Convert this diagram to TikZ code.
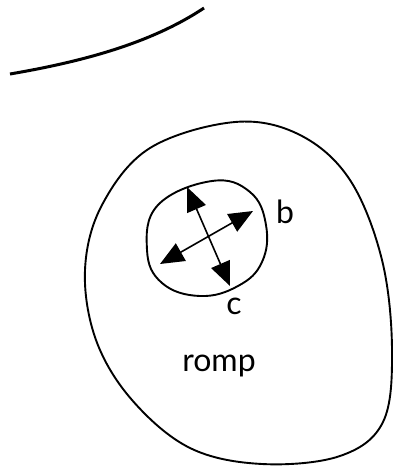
\documentclass[tikz,border=0pt]{standalone}
\usepackage{fontspec}
\setmainfont{Lato}
\usetikzlibrary{arrows.meta}
\begin{document}
\begin{tikzpicture}[x=1pt,y=-1pt,line width=1.9pt,
  lb/.style={font=\fontsize{32}{36}\selectfont,inner sep=0pt},
  ar/.style={{Triangle[length=24pt,width=20pt]}-{Triangle[length=24pt,width=20pt]},line width=1.6pt}]
\useasboundingbox (0,0) rectangle (394,466);
% edge of something, top left
\draw[line width=3pt] (10,74) .. controls (80,62) and (150,44) .. (204,8);
% the outer region
\draw plot[smooth cycle,tension=0.6] coordinates{(235,122) (300,135) (350,180) (382,260) (392,350) (383,422) (340,456) (262,464) (190,448) (132,400) (96,340) (85,270) (102,205) (150,148)};
% the small disc
\draw plot[smooth cycle,tension=0.7] coordinates{(212,181) (250,192) (266,225) (262,262) (238,286) (200,296) (162,283) (147,250) (158,205)};
\coordinate (n) at (187,187);\coordinate (s) at (230,286);
\coordinate (w) at (160,264);\coordinate (e) at (253,211);
\draw[ar] (n)--(s);\draw[ar] (w)--(e);
\node[lb] (b) at (285,212){b};
\node[lb] (c) at (234,306){c};
\node[lb] (romp) at (219,366){romp};
\end{tikzpicture}
\end{document}
